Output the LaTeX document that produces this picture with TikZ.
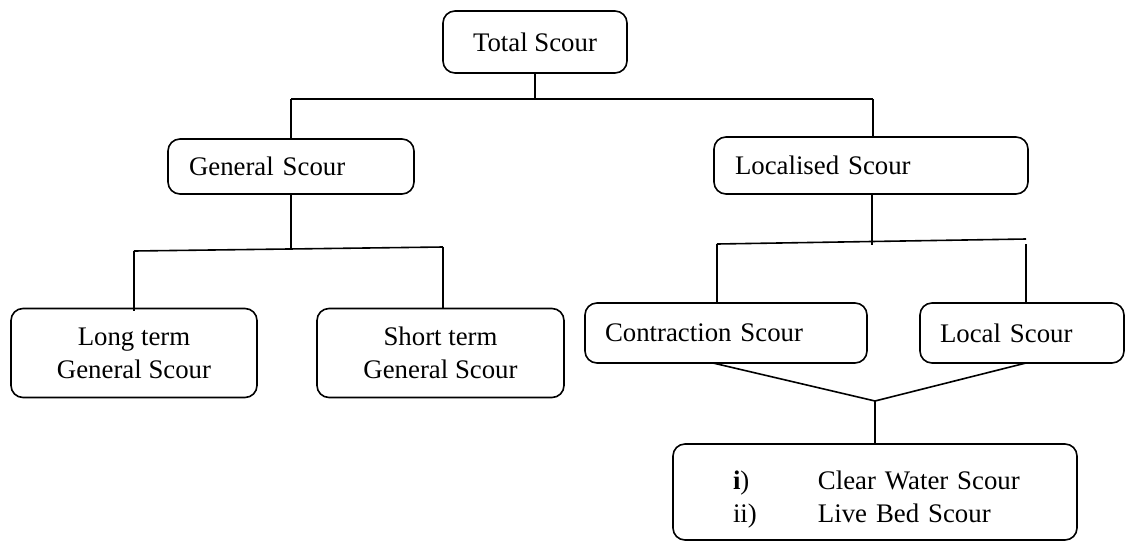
\documentclass[tikz,border=0pt]{standalone}
\usepackage{fontspec}
\setmainfont{Liberation Serif}
\newcommand{\boxfont}{\fontsize{26.8pt}{33pt}\selectfont}
\tikzset{
  box/.style={draw, rounded corners=12pt, line width=1.6pt, font=\boxfont, inner sep=0pt, align=center},
  conn/.style={line width=1.6pt}
}
\begin{document}
\begin{tikzpicture}[x=1pt, y=-1pt]
\fill[white] (0,0) rectangle (1125,542);
\useasboundingbox (0,0) rectangle (1125,542);

\node[box, minimum width=184pt, minimum height=62pt] (total) at (535,42) {Total Scour};
\node[box, minimum width=246pt, minimum height=55pt, text width=204pt, align=left] (general) at (291,166.5) {General Scour};
\node[box, minimum width=314pt, minimum height=57pt, text width=272pt, align=left] (localised) at (871,165.5) {Localised Scour};
\node[box, minimum width=246pt, minimum height=89pt] (longterm) at (134,353) {Long term\\General Scour};
\node[box, minimum width=247pt, minimum height=89pt] (shortterm) at (440.5,353) {Short term\\General Scour};
\node[box, minimum width=282pt, minimum height=60pt, text width=242pt, align=left] (contraction) at (726,333) {Contraction Scour};
\node[box, minimum width=204pt, minimum height=60pt, text width=164pt, align=left] (local) at (1022,333) {Local Scour};
\node[box, minimum width=404pt, minimum height=96pt, text width=284pt, align=left] (types) at (875,492)
  {\rule{0pt}{34pt}\makebox[85pt][l]{\textbf{i})}\makebox[199pt][l]{Clear Water Scour}\\\makebox[85pt][l]{ii)}\makebox[199pt][l]{Live Bed Scour}};

% level 1
\coordinate (t1) at (535,99);
\coordinate (bl) at (291,99);
\coordinate (br) at (873,99);
\draw[conn] (total.south) -- (t1);
\draw[conn] (bl) -- (br);
\draw[conn] (bl) -- (general.north -| bl);
\draw[conn] (br) -- (localised.north -| br);

% general branch
\coordinate (g1) at (291,248);
\coordinate (gl) at (134,251);
\coordinate (gr) at (443,247);
\draw[conn] (general.south -| g1) -- (g1);
\draw[conn] (gl) -- (gr);
\draw[conn] (gl) -- (134,311);
\draw[conn] (gr) -- (shortterm.north -| gr);

% localised branch
\coordinate (l1) at (872,245);
\coordinate (ll) at (717,244);
\coordinate (lr) at (1026,239);
\coordinate (lr2) at (1026,244);
\draw[conn] (localised.south -| l1) -- (l1);
\draw[conn] (ll) -- (lr);
\draw[conn] (ll) -- (contraction.north -| ll);
\draw[conn] (lr2) -- (local.north -| lr2);

% merge to types
\coordinate (j) at (875,401);
\coordinate (cs) at (713,363);
\coordinate (ls) at (1026,363);
\draw[conn] (cs) -- (j) -- (ls);
\draw[conn] (j) -- (types.north -| j);
\end{tikzpicture}
\end{document}
